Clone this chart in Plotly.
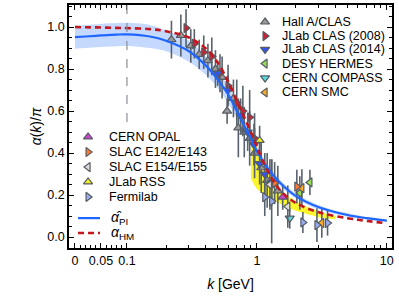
import numpy as np
import plotly.graph_objects as go

# ---------------- data ----------------
k_curve = [0, 0.02, 0.05, 0.08, 0.1, 0.15, 0.2, 0.3, 0.4, 0.5, 0.6, 0.7, 0.8, 0.9,
           1.0, 1.2, 1.5, 2.0, 3.0, 5.0, 7.0, 10.0]
alpha_pi = [0.952, 0.955, 0.96, 0.964, 0.965, 0.955, 0.935, 0.885, 0.82, 0.75, 0.68,
            0.60, 0.53, 0.47, 0.41, 0.33, 0.26, 0.195, 0.142, 0.105, 0.09, 0.078]
alpha_pi_err = [0.055, 0.055, 0.055, 0.055, 0.055, 0.055, 0.05, 0.05, 0.045, 0.04, 0.04,
                0.035, 0.03, 0.03, 0.025, 0.02, 0.015, 0.012, 0.01, 0.008, 0.006, 0.005]
alpha_hm = [1.0, 0.999, 0.998, 0.996, 0.995, 0.99, 0.98, 0.95, 0.90, 0.83, 0.74,
            0.65, 0.57, 0.50, 0.43, 0.32, 0.225, 0.162, 0.118, 0.09, 0.077, 0.066]

k_band = [0.9, 0.95, 1.0, 1.1, 1.2, 1.5, 2.0, 3.0, 4.0]
band_hi = [0.48, 0.46, 0.43, 0.36, 0.31, 0.23, 0.17, 0.122, 0.102]
band_lo = [0.28, 0.25, 0.23, 0.21, 0.20, 0.16, 0.125, 0.095, 0.085]

datasets = [
    # name, symbol, fill, k, value, error
    ("Hall A/CLAS", "triangle-up", "#9a9a9a",
     [0.22, 0.26, 0.31, 0.36, 0.42, 0.48, 0.54, 0.59, 0.66, 0.72, 0.80, 0.88, 0.96, 1.08, 1.2, 1.45],
     [0.94, 0.96, 0.91, 0.87, 0.84, 0.80, 0.76, 0.60, 0.66, 0.52, 0.50, 0.47, 0.40, 0.33, 0.27, 0.22],
     [0.09, 0.10, 0.08, 0.07, 0.08, 0.09, 0.10, 0.06, 0.09, 0.14, 0.12, 0.13, 0.12, 0.12, 0.13, 0.12]),
    ("JLab CLAS (2008)", "triangle-right", "#cc2233",
     [0.285, 0.33, 0.39, 0.45, 0.52, 0.60, 0.70, 0.78, 0.88, 0.96],
     [0.995, 0.92, 0.88, 0.86, 0.78, 0.72, 0.64, 0.60, 0.57, 0.47],
     [0.09, 0.07, 0.08, 0.09, 0.09, 0.10, 0.11, 0.12, 0.13, 0.12]),
    ("JLab CLAS (2014)", "triangle-down", "#3355ee",
     [0.5, 0.6, 0.75, 0.85, 0.95, 1.05, 1.15, 1.3],
     [0.78, 0.70, 0.58, 0.50, 0.44, 0.35, 0.30, 0.26],
     [0.06, 0.07, 0.08, 0.09, 0.10, 0.10, 0.10, 0.11]),
    ("DESY HERMES", "triangle-left", "#99dd55",
     [2.14, 2.56], [0.21, 0.26], [0.08, 0.06]),
    ("CERN COMPASS", "triangle-down", "#55dddd",
     [1.79], [0.09], [0.05]),
    ("CERN SMC", "triangle-left", "#ffaa22",
     [2.22, 3.16], [0.233, 0.067], [0.09, 0.07]),
    ("CERN OPAL", "triangle-up", "#cc44cc",
     [1.58], [0.19], [0.06]),
    ("SLAC E142/E143", "triangle-right", "#ff7733",
     [1.37, 2.03], [0.257, 0.24], [0.10, 0.08]),
    ("SLAC E154/E155", "triangle-left", "#dddddd",
     [1.26, 1.73], [0.25, 0.145], [0.12, 0.10]),
    ("JLab RSS", "triangle-up", "#eeee22",
     [1.05], [0.46], [0.07]),
    ("Fermilab", "triangle-right", "#99aaee",
     [1.15, 1.30, 2.26, 2.9, 3.5], [0.19, 0.17, 0.07, 0.057, 0.067], [0.09, 0.20, 0.05, 0.08, 0.06]),
]

x_tick_vals = [0, 0.05, 0.1, 1, 10]
x_tick_text = ["0", "0.05", "0.1", "1", "10"]

# ------------- axis transform (linear below 0.1, log above) -------------
def u(k):
    k = np.asarray(k, dtype=float)
    return np.where(k >= 0.1, np.log10(np.maximum(k, 1e-9)), -1 - (0.1 - k) / 0.1 * 0.4)

fig = go.Figure()

kc = np.array(k_curve)
ap = np.array(alpha_pi)
ae = np.array(alpha_pi_err)

# blue band
fig.add_trace(go.Scatter(x=u(kc), y=ap + ae, mode="lines", line=dict(width=0, shape="spline"),
                         showlegend=False, hoverinfo="skip"))
fig.add_trace(go.Scatter(x=u(kc), y=ap - ae, mode="lines", line=dict(width=0, shape="spline"),
                         fill="tonexty", fillcolor="rgba(110,160,255,0.40)",
                         showlegend=False, hoverinfo="skip"))
# yellow band
kb = np.array(k_band)
fig.add_trace(go.Scatter(x=u(kb), y=band_hi, mode="lines", line=dict(width=0, shape="spline"),
                         showlegend=False, hoverinfo="skip"))
fig.add_trace(go.Scatter(x=u(kb), y=band_lo, mode="lines", line=dict(width=0, shape="spline"),
                         fill="tonexty", fillcolor="rgba(250,245,20,0.9)",
                         showlegend=False, hoverinfo="skip"))

# vertical dashed line at k = 0.1
fig.add_shape(type="line", x0=float(u(0.1)), x1=float(u(0.1)), y0=0.548, y1=1.105,
              xref="x", yref="y", line=dict(color="#8a9096", width=1.2, dash="dash"))

# data points
for name, sym, col, ks, vs, es in datasets:
    fig.add_trace(go.Scatter(
        x=u(ks), y=vs, mode="markers",
        error_y=dict(type="data", array=es, color="#58626c", thickness=1.6, width=0),
        marker=dict(symbol=sym, size=8, color=col, line=dict(color="#555c63", width=1.2)),
        showlegend=False))

# curves
fig.add_trace(go.Scatter(x=u(kc), y=ap, mode="lines", line=dict(color="#1e66ff", width=2.2, shape="spline"),
                         showlegend=False))
fig.add_trace(go.Scatter(x=u(kc), y=alpha_hm, mode="lines",
                         line=dict(color="#c4161c", width=2.6, dash="6px,4px", shape="spline"),
                         showlegend=False))

# ------------- manual legends (overlay axes in [0,1]) -------------
right_legend = datasets[:6]
left_legend = datasets[6:]
rl_y = [0.930, 0.872, 0.817, 0.759, 0.700, 0.640]
ll_y = [0.457, 0.395, 0.333, 0.272, 0.210]
annotations = []
for (name, sym, col, *_), yy in zip(right_legend, rl_y):
    fig.add_trace(go.Scatter(x=[0.607], y=[yy], mode="markers", xaxis="x2", yaxis="y2",
                             marker=dict(symbol=sym, size=8, color=col, line=dict(color="#555c63", width=1.2)),
                             showlegend=False, hoverinfo="skip"))
    annotations.append(dict(x=0.652, y=yy, xref="paper", yref="paper", text=name, showarrow=False,
                            xanchor="left", yanchor="middle", font=dict(size=12.5, color="black")))
for (name, sym, col, *_), yy in zip(left_legend, ll_y):
    fig.add_trace(go.Scatter(x=[0.059], y=[yy], mode="markers", xaxis="x2", yaxis="y2",
                             marker=dict(symbol=sym, size=8, color=col, line=dict(color="#555c63", width=1.2)),
                             showlegend=False, hoverinfo="skip"))
    annotations.append(dict(x=0.118, y=yy, xref="paper", yref="paper", text=name, showarrow=False,
                            xanchor="left", yanchor="middle", font=dict(size=12.5, color="black")))
# line legend entries
fig.add_trace(go.Scatter(x=[0.028, 0.096], y=[0.123, 0.123], mode="lines", xaxis="x2", yaxis="y2",
                         line=dict(color="#1e66ff", width=2.2), showlegend=False, hoverinfo="skip"))
fig.add_trace(go.Scatter(x=[0.028, 0.096], y=[0.062, 0.062], mode="lines", xaxis="x2", yaxis="y2",
                         line=dict(color="#c4161c", width=2.6, dash="6px,4px"), showlegend=False, hoverinfo="skip"))
annotations.append(dict(x=0.125, y=0.123, xref="paper", yref="paper", text="<i>α̂</i><sub>PI</sub>",
                        showarrow=False, xanchor="left", yanchor="middle", font=dict(size=14, color="black")))
annotations.append(dict(x=0.125, y=0.062, xref="paper", yref="paper", text="<i>α</i><sub>HM</sub>",
                        showarrow=False, xanchor="left", yanchor="middle", font=dict(size=14, color="black")))

minor_x = [0.01 * i for i in range(1, 10) if i != 5] + [0.1 * i for i in range(2, 10)] + list(range(2, 10))

fig.update_layout(
    width=399, height=302,
    margin=dict(l=69, r=7, t=5, b=54, autoexpand=False),
    paper_bgcolor="white", plot_bgcolor="white",
    font=dict(family="Liberation Sans, Arial, sans-serif", size=13, color="black"),
    annotations=annotations,
    xaxis=dict(range=[-1.446, 1.04], tickmode="array", tickvals=list(u(x_tick_vals)), ticktext=x_tick_text,
               ticks="inside", ticklen=5, tickwidth=1, tickcolor="black", mirror="ticks",
               showline=True, linecolor="black", linewidth=1.5, showgrid=False, zeroline=False,
               automargin=False,
               minor=dict(tickmode="array", tickvals=list(u(minor_x)), ticks="inside", ticklen=3,
                          tickcolor="black", tickwidth=1),
               title=dict(text="<i>k</i> [GeV]", standoff=12, font=dict(size=14)),
               tickfont=dict(size=12.5)),
    yaxis=dict(range=[-0.052, 1.105], tickmode="array", tickvals=[0, 0.2, 0.4, 0.6, 0.8, 1.0],
               ticktext=["0.0", "0.2", "0.4", "0.6", "0.8", "1.0"],
               ticks="inside", ticklen=5, tickwidth=1, tickcolor="black", mirror="ticks",
               showline=True, linecolor="black", linewidth=1.5, showgrid=False, zeroline=False,
               automargin=False,
               minor=dict(dtick=0.05, tick0=0, ticks="inside", ticklen=3, tickcolor="black", tickwidth=1),
               title=dict(text="<i>α</i>(<i>k</i>)/<i>π</i>", standoff=2, font=dict(size=14)),
               tickfont=dict(size=12.5)),
    xaxis2=dict(range=[0, 1], overlaying="x", visible=False, fixedrange=True, automargin=False),
    yaxis2=dict(range=[0, 1], overlaying="y", visible=False, fixedrange=True, automargin=False),
    showlegend=False,
)

fig.write_html("out.html", config={"displayModeBar": False},
               post_script="document.body.style.margin='0px';")
